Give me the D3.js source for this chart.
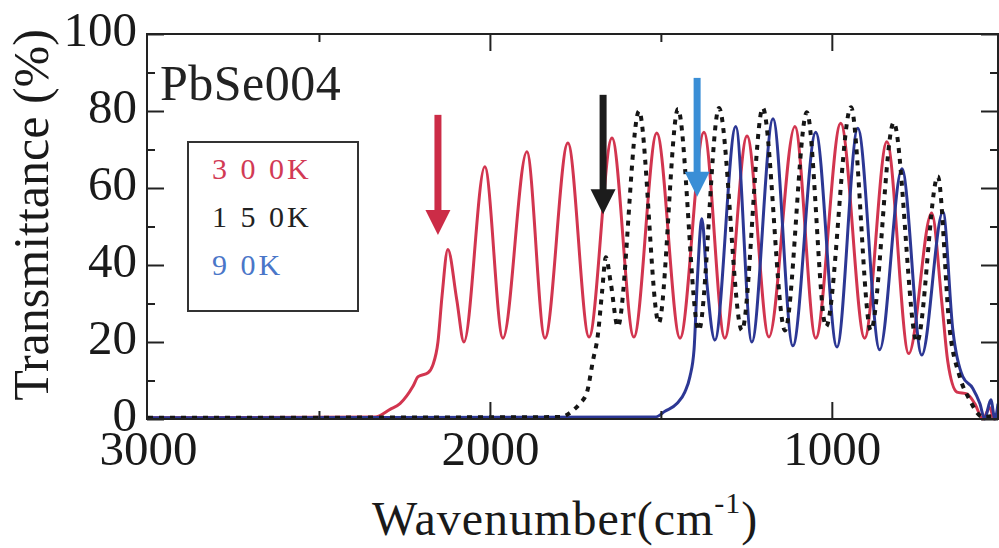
<!DOCTYPE html>
<html>
<head>
<meta charset="utf-8">
<script src="https://cdn.jsdelivr.net/npm/d3@7"></script>
<style>
  body { margin: 0; background: #fff; }
  svg { display: block; }
  text { font-family: "Liberation Serif", "Times New Roman", serif; }
</style>
</head>
<body>
<svg id="chart" width="999" height="548"></svg>
<script>
// transmittance spectra of PbSe004 (wavenumber cm-1, T %)
var redWn = [3000, 2336, 2292, 2263, 2225, 2210, 2181, 2167, 2152, 2140, 2123, 2097, 2076, 2015, 1962, 1892, 1839, 1772, 1710, 1643, 1579, 1512, 1444, 1374, 1313, 1248, 1184, 1108, 1047, 974, 904, 839, 775, 708, 678, 661, 634, 605, 582, 558, 538, 526, 514];
var redT  = [0.3, 0.5, 2.5, 4, 8.5, 11, 12, 14, 20, 32, 44, 31, 20, 65.5, 21, 69.4, 21, 71.7, 21.3, 73, 21.3, 74.3, 21, 74.5, 21, 73.5, 21.3, 76, 21, 76.8, 21, 72, 17, 53.5, 30, 15, 7, 6.5, 4, 0, 3, 0, 2];

var blackWn = [3000, 1795, 1760, 1737, 1716, 1699, 1684, 1672, 1661, 1646, 1626, 1564, 1506, 1450, 1389, 1330, 1263, 1202, 1137, 1073, 1017, 944, 886, 819, 751, 690, 655, 626, 597, 558, 514];
var blackT  = [0.3, 0.5, 2, 4, 7, 15, 22, 33, 42, 35, 24, 80, 25, 80.5, 23, 80.8, 23, 80.8, 23, 79.7, 24, 81, 23, 77, 20, 63, 23, 11, 5, 0.5, 1];

var blueWn = [3000, 1517, 1488, 1453, 1430, 1415, 1403, 1394, 1380, 1365, 1342, 1281, 1234, 1172, 1114, 1047, 985, 924, 860, 795, 737, 675, 646, 617, 588, 567, 553, 535, 523, 514];
var blueT  = [0.3, 0.5, 2, 4, 7, 11, 18, 35, 52, 35, 20.5, 76, 20, 78, 19, 74.5, 18.7, 75.5, 18, 65, 16.6, 53.8, 23, 11, 8, 4, 0, 5, 0, 4];

var seriesNames = ["3 0 0K", "1 5 0K", "9 0K"];
var xTicks = [3000, 2000, 1000];
var xMinorTicks = [2500, 1500];
var yTicks = [0, 20, 40, 60, 80, 100];
var yMinorTicks = [10, 30, 50, 70, 90];

// arrows marking the absorption edges: wavenumber, tail T, tip T
var arrowWn = [2152, 1669, 1394];
var arrowTop = [79, 84.2, 88.6];
var arrowTip = [47.8, 53.2, 57.7];

var svg = d3.select("#chart");

var plotLeft = 148, plotRight = 998, plotTop = 34, plotBottom = 419;

var x = d3.scaleLinear().domain([3000, 514]).range([plotLeft, plotRight]);
var y = d3.scaleLinear().domain([0, 100]).range([plotBottom, plotTop]);

var zip = function(a, b) { return a.map(function(d, i) { return [d, b[i]]; }); };

var line = d3.line()
	.x(function(d) { return x(d[0]); })
	.y(function(d) { return y(d[1]); })
	.curve(d3.curveMonotoneX);

var plot = svg.append("g").attr("class", "lines");

plot.append("path")
	.attr("d", line(zip(redWn, redT)))
	.attr("fill", "none")
	.attr("stroke", "#d2354f")
	.attr("stroke-width", 3);

plot.append("path")
	.attr("d", line(zip(blueWn, blueT)))
	.attr("fill", "none")
	.attr("stroke", "#2c3794")
	.attr("stroke-width", 3);

plot.append("path")
	.attr("d", line(zip(blackWn, blackT)))
	.attr("fill", "none")
	.attr("stroke", "#151515")
	.attr("stroke-width", 4)
	.attr("stroke-dasharray", "5 6");

// frame
svg.append("rect")
	.attr("x", plotLeft - 1).attr("y", plotTop)
	.attr("width", plotRight - plotLeft + 1).attr("height", plotBottom - plotTop)
	.attr("fill", "none")
	.attr("stroke", "#222")
	.attr("stroke-width", 2);

function styleAxis(g) {
	g.select(".domain").remove();
	g.selectAll(".tick line").attr("stroke", "#222").attr("stroke-width", 2);
	g.selectAll(".tick text")
		.attr("fill", "#1a1a1a")
		.style("font-size", "49px")
		.style("font-family", "'Liberation Serif', serif");
}

// y axes (ticks inward)
svg.append("g")
	.attr("transform", "translate(" + (plotLeft - 1) + ",0)")
	.call(d3.axisLeft(y).tickValues(yTicks).tickSize(-17).tickPadding(10))
	.call(styleAxis)
	.selectAll(".tick text").attr("dy", "0.24em");

svg.append("g")
	.attr("transform", "translate(" + (plotLeft - 1) + ",0)")
	.call(d3.axisLeft(y).tickValues(yMinorTicks).tickSize(-8).tickFormat(""))
	.call(styleAxis);

svg.append("g")
	.attr("transform", "translate(" + plotRight + ",0)")
	.call(d3.axisRight(y).tickValues(yTicks).tickSize(-17).tickFormat(""))
	.call(styleAxis);

svg.append("g")
	.attr("transform", "translate(" + plotRight + ",0)")
	.call(d3.axisRight(y).tickValues(yMinorTicks).tickSize(-8).tickFormat(""))
	.call(styleAxis);

// x axes
svg.append("g")
	.attr("transform", "translate(0," + plotBottom + ")")
	.call(d3.axisBottom(x).tickValues(xTicks).tickSize(-17).tickPadding(11).tickFormat(d3.format("d")))
	.call(styleAxis);

svg.append("g")
	.attr("transform", "translate(0," + plotBottom + ")")
	.call(d3.axisBottom(x).tickValues(xMinorTicks).tickSize(-8).tickFormat(""))
	.call(styleAxis);

svg.append("g")
	.attr("transform", "translate(0," + plotTop + ")")
	.call(d3.axisTop(x).tickValues(xTicks).tickSize(-17).tickFormat(""))
	.call(styleAxis);

svg.append("g")
	.attr("transform", "translate(0," + plotTop + ")")
	.call(d3.axisTop(x).tickValues(xMinorTicks).tickSize(-8).tickFormat(""))
	.call(styleAxis);

// the 3000 tick would sit on the frame
svg.selectAll(".tick").filter(function(d) { return d === 3000; }).select("line").remove();

// axis titles
var xt = svg.append("text")
	.attr("x", 372).attr("y", 535)
	.attr("fill", "#1a1a1a")
	.style("font-size", "48px")
	.style("letter-spacing", "1px");
xt.append("tspan").text("Wavenumber(cm");
xt.append("tspan").attr("dy", -22).style("font-size", "30px").text("-1");
xt.append("tspan").attr("dy", 22).text(")");

svg.append("text")
	.attr("transform", "translate(48,215) rotate(-90)")
	.attr("text-anchor", "middle")
	.attr("fill", "#1a1a1a")
	.style("font-size", "50px")
	.text("Transmittance (%)");

// sample name
svg.append("text")
	.attr("x", 160).attr("y", 100)
	.attr("fill", "#222")
	.style("font-size", "50px")
	.style("letter-spacing", "0.5px")
	.text("PbSe004");

// legend
svg.append("rect")
	.attr("x", 188).attr("y", 142)
	.attr("width", 170).attr("height", 169)
	.attr("fill", "none")
	.attr("stroke", "#333")
	.attr("stroke-width", 2);

var legendColors = ["#d23a55", "#222", "#4a76c8"];
svg.selectAll(".legend-label")
	.data(seriesNames)
	.enter()
	.append("text")
	.attr("class", "legend-label")
	.attr("x", 212)
	.attr("y", function(d, i) { return 179 + i * 48; })
	.attr("fill", function(d, i) { return legendColors[i]; })
	.style("font-size", "30px")
	.style("letter-spacing", "3px")
	.text(function(d) { return d; });

// arrows
var arrowColors = ["#cc2c47", "#1c1c1c", "#3a8ed6"];
var arrows = svg.append("g").attr("class", "arrows");
arrowWn.forEach(function(w, i) {
	var ax = x(w), y0 = y(arrowTop[i]), y1 = y(arrowTip[i]);
	var headLen = 25, headHalf = 12.5;
	arrows.append("rect")
		.attr("x", ax - 3.5).attr("y", y0)
		.attr("width", 7).attr("height", y1 - y0 - headLen + 1)
		.attr("fill", arrowColors[i]);
	arrows.append("path")
		.attr("d", "M" + (ax - headHalf) + "," + (y1 - headLen) +
			"L" + (ax + headHalf) + "," + (y1 - headLen) +
			"L" + ax + "," + y1 + "Z")
		.attr("fill", arrowColors[i]);
});
</script>
</body>
</html>
